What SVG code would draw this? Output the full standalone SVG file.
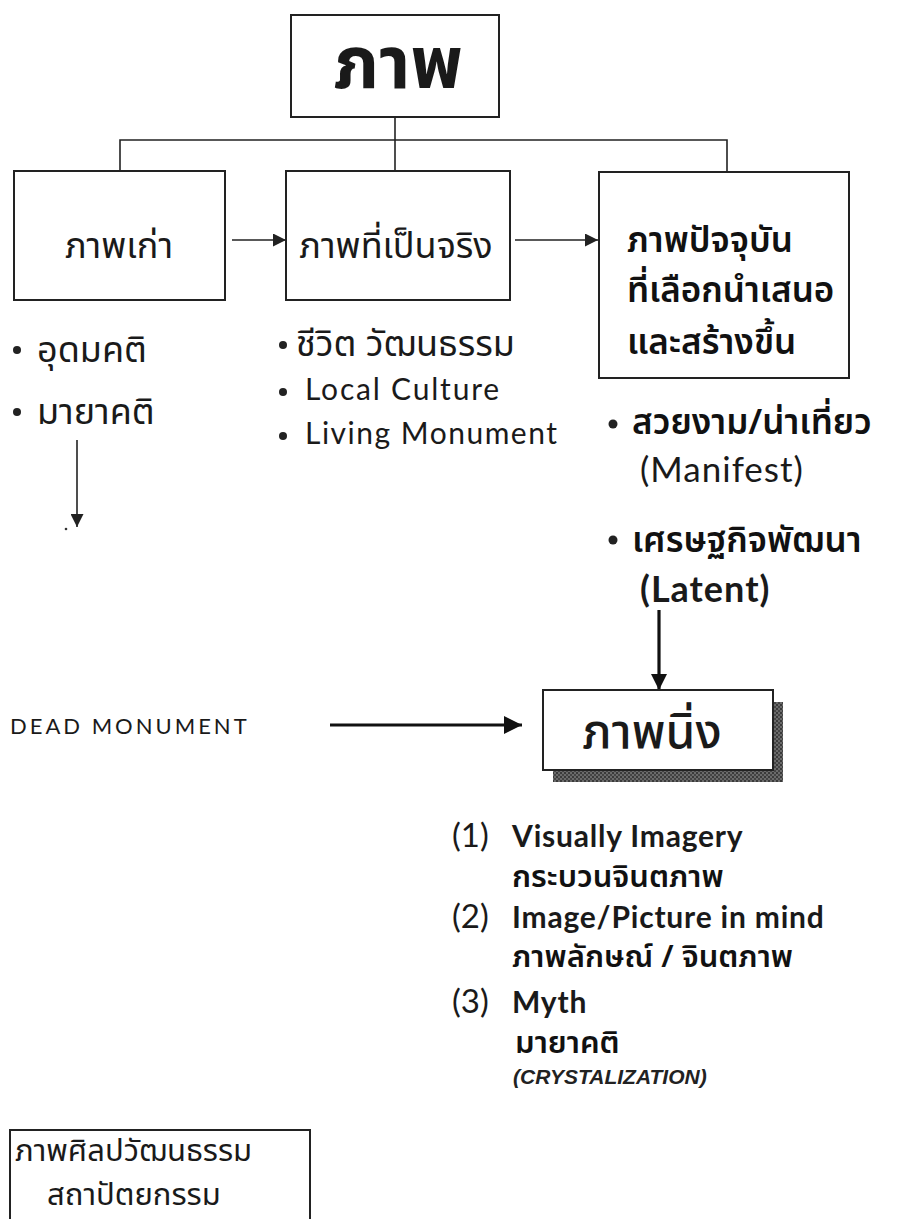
<svg xmlns="http://www.w3.org/2000/svg" width="916" height="1219" viewBox="0 0 916 1219">
  <defs>
    <style>
      .box { fill: #fff; stroke: #222; stroke-width: 2; }
      .ln { stroke: #222; stroke-width: 1.6; fill: none; }
      .thk { stroke: #111; stroke-width: 3.2; fill: none; }
      .th { font-family: "Noto Sans Thai", "Noto Sans", sans-serif; fill: #1a1a1a; }
      .thb { font-family: "Noto Sans Thai", "Noto Sans", sans-serif; fill: #111; font-weight: 600; }
      .en { font-family: Lato, "Open Sans", sans-serif; fill: #1a1a1a; }
      .it { font-family: "Liberation Sans", Arial, sans-serif; font-style: italic; font-weight: bold; fill: #222; }
      .dot { fill: #222; }
    </style>
    <pattern id="grain" width="4" height="4" patternUnits="userSpaceOnUse">
      <rect width="4" height="4" fill="#6a6a6a"/>
      <rect x="0" y="0" width="2" height="2" fill="#3a3a3a"/>
      <rect x="2" y="2" width="2" height="2" fill="#444"/>
    </pattern>
    <marker id="head" viewBox="0 0 10 10" refX="10" refY="5" markerUnits="userSpaceOnUse" markerWidth="26" markerHeight="13" orient="auto">
      <path d="M0,0 L10,5 L0,10 Z" fill="#222"/>
    </marker>
    <marker id="headBig" viewBox="0 0 10 10" refX="10" refY="5" markerUnits="userSpaceOnUse" markerWidth="40" markerHeight="18" orient="auto">
      <path d="M0,0 L10,5 L0,10 Z" fill="#111"/>
    </marker>
    <marker id="headDown" viewBox="0 0 10 10" refX="10" refY="5" markerUnits="userSpaceOnUse" markerWidth="30" markerHeight="16" orient="auto">
      <path d="M0,0 L10,5 L0,10 Z" fill="#111"/>
    </marker>
  </defs>

  <rect width="916" height="1219" fill="#fff"/>

  <!-- connectors -->
  <g id="connectors">
    <line class="ln" x1="395" y1="117" x2="395" y2="171"/>
    <polyline class="ln" points="120,171 120,140 727,140 727,172"/>
    <line class="ln" x1="232" y1="240" x2="286" y2="240" marker-end="url(#head)"/>
    <line class="ln" x1="515" y1="240" x2="598" y2="240" marker-end="url(#head)"/>
    <line class="ln" x1="77" y1="440" x2="77" y2="527" marker-end="url(#head)"/>
    <circle cx="66" cy="529" r="1.3" fill="#333"/>
    <line class="thk" x1="659" y1="610" x2="659" y2="690" marker-end="url(#headDown)"/>
    <line class="thk" x1="330" y1="725" x2="522" y2="725" marker-end="url(#headBig)"/>
  </g>

  <!-- top node -->
  <g id="node-image">
    <rect class="box" x="291" y="15" width="208" height="102"/>
    <text class="th" x="398" y="88" font-size="72" font-weight="bold" text-anchor="middle">ภาพ</text>
  </g>

  <!-- old image -->
  <g id="node-old">
    <rect class="box" x="14" y="171" width="211" height="129"/>
    <text class="th" x="119" y="258" font-size="36" text-anchor="middle">ภาพเก่า</text>
  </g>

  <!-- real image -->
  <g id="node-real">
    <rect class="box" x="286" y="171" width="224" height="129"/>
    <text class="th" x="396" y="258" font-size="36" text-anchor="middle">ภาพที่เป็นจริง</text>
  </g>

  <!-- present image -->
  <g id="node-present">
    <rect class="box" x="599" y="172" width="250" height="206" stroke-width="2.4"/>
    <text class="thb" x="627" y="252" font-size="35">ภาพปัจจุบัน</text>
    <text class="thb" x="627" y="302" font-size="35">ที่เลือกนำเสนอ</text>
    <text class="thb" x="627" y="354" font-size="35">และสร้างขึ้น</text>
  </g>

  <!-- bullets under old image -->
  <g id="list-old">
    <circle class="dot" cx="17" cy="350" r="4"/>
    <text class="th" x="37" y="362" font-size="36">อุดมคติ</text>
    <circle class="dot" cx="17" cy="412" r="4"/>
    <text class="th" x="37" y="424" font-size="36">มายาคติ</text>
  </g>

  <!-- bullets under real image -->
  <g id="list-real">
    <circle class="dot" cx="283" cy="345" r="4"/>
    <text class="th" x="296" y="356" font-size="36">ชีวิต วัฒนธรรม</text>
    <circle class="dot" cx="283" cy="392" r="4"/>
    <text class="en" x="305" y="400" font-size="30" letter-spacing="1.8">Local  Culture</text>
    <circle class="dot" cx="283" cy="436" r="4"/>
    <text class="en" x="305" y="444" font-size="30" letter-spacing="1.5">Living Monument</text>
  </g>

  <!-- bullets under present image -->
  <g id="list-present">
    <circle class="dot" cx="613" cy="424" r="4.5"/>
    <text class="thb" x="632" y="434" font-size="35">สวยงาม/น่าเที่ยว</text>
    <text class="en" x="640" y="482" font-size="35" letter-spacing="1">(Manifest)</text>
    <circle class="dot" cx="613" cy="540" r="4.5"/>
    <text class="thb" x="632" y="552" font-size="35">เศรษฐกิจพัฒนา</text>
    <text class="en" x="640" y="602" font-size="36" font-weight="bold" letter-spacing="1">(Latent)</text>
  </g>

  <!-- dead monument -->
  <g id="label-dead">
    <text class="en" x="10" y="734" font-size="22" letter-spacing="3">DEAD  MONUMENT</text>
  </g>

  <!-- still image -->
  <g id="node-still">
    <rect x="553" y="702" width="230" height="80" fill="url(#grain)"/>
    <rect class="box" x="543" y="690" width="230" height="80"/>
    <text class="th" x="652" y="748" font-size="48" text-anchor="middle" font-weight="500">ภาพนิ่ง</text>
  </g>

  <!-- list under still image -->
  <g id="list-still">
    <text class="en" x="452" y="847" font-size="33">(1)</text>
    <text class="en" x="512" y="847" font-size="30" font-weight="bold" letter-spacing="0.8">Visually Imagery</text>
    <text class="thb" x="512" y="887" font-size="31">กระบวนจินตภาพ</text>
    <text class="en" x="452" y="928" font-size="33">(2)</text>
    <text class="en" x="512" y="928" font-size="30" font-weight="bold" letter-spacing="0.8">Image/Picture in mind</text>
    <text class="thb" x="512" y="967" font-size="31">ภาพลักษณ์ / จินตภาพ</text>
    <text class="en" x="452" y="1013" font-size="33">(3)</text>
    <text class="en" x="512" y="1013" font-size="30" font-weight="bold" letter-spacing="0.8">Myth</text>
    <text class="thb" x="515" y="1053" font-size="31">มายาคติ</text>
    <text class="it" x="513" y="1084" font-size="21">(CRYSTALIZATION)</text>
  </g>

  <!-- arts and architecture -->
  <g id="node-arts">
    <rect class="box" x="10" y="1130" width="300" height="100"/>
    <text class="th" x="15" y="1161" font-size="31">ภาพศิลปวัฒนธรรม</text>
    <text class="th" x="47" y="1205" font-size="31">สถาปัตยกรรม</text>
  </g>
</svg>
